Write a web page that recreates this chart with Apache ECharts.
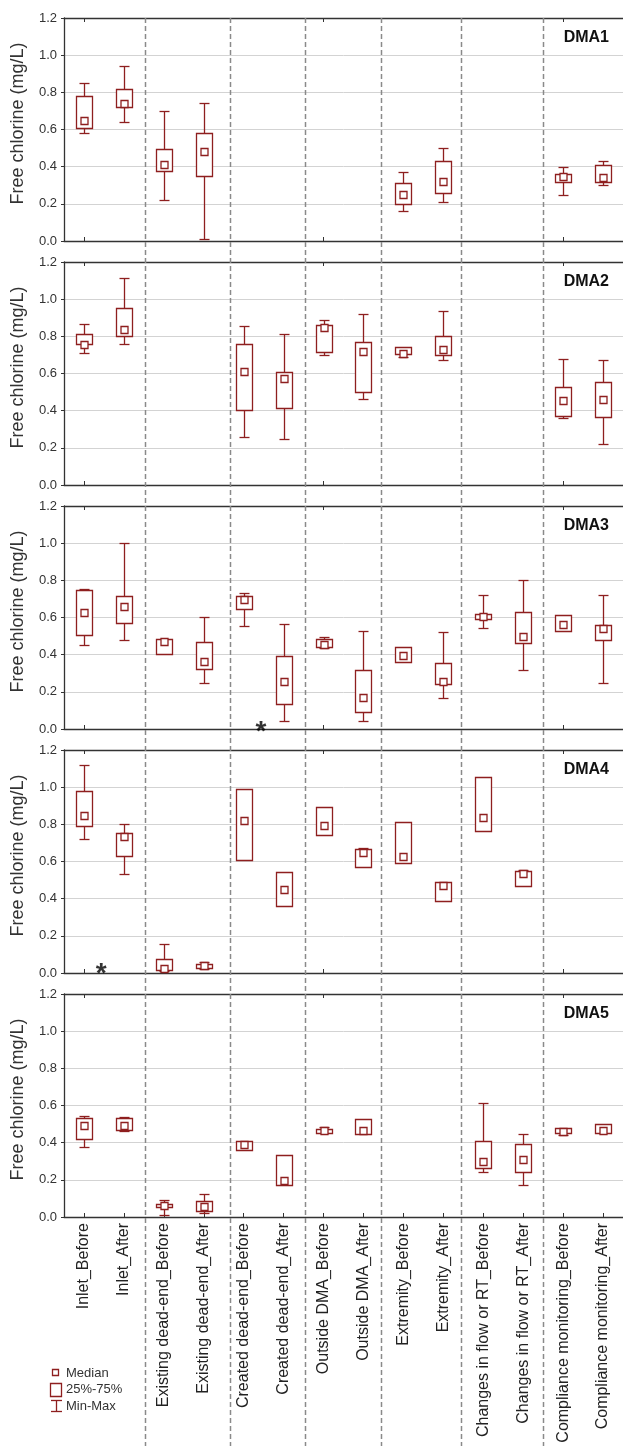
<!DOCTYPE html>
<html>
<head>
<meta charset="utf-8">
<script src="https://cdn.jsdelivr.net/npm/echarts@6/dist/echarts.min.js"></script>
<style>
  html, body { margin: 0; padding: 0; background: #fff; }
  #chart { width: 623px; height: 1446px; }
</style>
</head>
<body>
<div id="chart"></div>
<script>
// Sampling locations, each measured before and after
const categories = [
  'Inlet_Before', 'Inlet_After',
  'Existing dead-end_Before', 'Existing dead-end_After',
  'Created dead-end_Before', 'Created dead-end_After',
  'Outside DMA_Before', 'Outside DMA_After',
  'Extremity_Before', 'Extremity_After',
  'Changes in flow or RT_Before', 'Changes in flow or RT_After',
  'Compliance monitoring_Before', 'Compliance monitoring_After'
];

const panelNames = ['DMA1', 'DMA2', 'DMA3', 'DMA4', 'DMA5'];
const yTicks = [0, 0.2, 0.4, 0.6, 0.8, 1.0, 1.2];

// Free chlorine (mg/L) per location: [min, q25, median, q75, max]; null = no sample / no whisker
const dma1 = [
  [0.58, 0.61, 0.65, 0.78, 0.85],
  [0.64, 0.72, 0.74, 0.82, 0.94],
  [0.22, 0.375, 0.41, 0.495, 0.70],
  [0.01, 0.35, 0.48, 0.58, 0.74],
  null, null, null, null,
  [0.16, 0.20, 0.25, 0.31, 0.37],
  [0.21, 0.26, 0.32, 0.43, 0.50],
  null, null,
  [0.25, 0.32, 0.345, 0.36, 0.40],
  [0.30, 0.32, 0.34, 0.41, 0.43]
];
const dma2 = [
  [0.71, 0.76, 0.755, 0.81, 0.865],
  [0.76, 0.80, 0.835, 0.95, 1.115],
  null, null,
  [0.26, 0.405, 0.61, 0.76, 0.855],
  [0.25, 0.415, 0.575, 0.61, 0.81],
  [0.70, 0.715, 0.845, 0.86, 0.89],
  [0.465, 0.50, 0.72, 0.77, 0.92],
  [0.69, 0.705, 0.71, 0.745, null],
  [0.67, 0.70, 0.73, 0.80, 0.935],
  null, null,
  [0.36, 0.37, 0.455, 0.525, 0.68],
  [0.22, 0.365, 0.46, 0.555, 0.67]
];
const dma3 = [
  [0.45, 0.505, 0.625, 0.75, 0.755],
  [0.48, 0.57, 0.66, 0.715, 1.0],
  [null, 0.405, 0.47, 0.485, null],
  [0.25, 0.325, 0.365, 0.47, 0.605],
  [0.555, 0.645, 0.695, 0.715, 0.73],
  [0.045, 0.135, 0.255, 0.395, 0.565],
  [0.435, 0.44, 0.455, 0.485, 0.495],
  [0.045, 0.09, 0.17, 0.32, 0.53],
  [null, 0.36, 0.395, 0.44, null],
  [0.165, 0.24, 0.255, 0.355, 0.52],
  [0.545, 0.59, 0.605, 0.62, 0.72],
  [0.32, 0.465, 0.50, 0.63, 0.80],
  [null, 0.53, 0.56, 0.615, null],
  [0.25, 0.48, 0.54, 0.56, 0.72]
];
const dma4 = [
  [0.72, 0.79, 0.845, 0.98, 1.12],
  [0.535, 0.63, 0.735, 0.755, 0.80],
  [0.01, 0.018, 0.025, 0.075, 0.155],
  [0.02, 0.025, 0.04, 0.05, 0.06],
  [null, 0.61, 0.82, 0.99, null],
  [null, 0.36, 0.45, 0.545, null],
  [null, 0.745, 0.795, 0.895, null],
  [null, 0.57, 0.65, 0.665, 0.675],
  [null, 0.59, 0.625, 0.81, null],
  [null, 0.39, 0.47, 0.49, null],
  [null, 0.765, 0.835, 1.055, null],
  [null, 0.47, 0.535, 0.55, 0.555],
  null, null
];
const dma5 = [
  [0.375, 0.42, 0.495, 0.535, 0.545],
  [0.465, 0.47, 0.49, 0.535, 0.54],
  [0.01, 0.052, 0.06, 0.068, 0.09],
  [0.02, 0.03, 0.055, 0.088, 0.125],
  [null, 0.36, 0.39, 0.41, null],
  [null, 0.17, 0.195, 0.335, null],
  [0.45, 0.45, 0.465, 0.475, 0.485],
  [null, 0.445, 0.465, 0.53, null],
  null, null,
  [0.24, 0.265, 0.30, 0.41, 0.615],
  [0.17, 0.24, 0.31, 0.395, 0.445],
  [0.44, 0.45, 0.46, 0.48, null],
  [null, 0.45, 0.465, 0.50, null]
];
const panels = [dma1, dma2, dma3, dma4, dma5];

// Group dividers, in category units along the x axis (0 .. 14)
const separatorPositions = [2.02, 4.15, 6.03, 7.93, 9.94, 12.0];

// Asterisk markers: [x in category units, value]
const dma3Asterisk = [4.93, 0.03];
const dma4Asterisk = [0.93, 0.04];
const asteriskByPanel = { 2: dma3Asterisk, 3: dma4Asterisk };

// ---- layout & style ----
const FONT = 'Liberation Sans, Arial, Helvetica, sans-serif';
const BOX_COLOR = '#8e1f1f';
const AXIS_COLOR = '#333333';
const GRID_LEFT = 64;
const GRID_WIDTH = 562;
const PANEL_TOP = 18;
const PANEL_H = 223;
const PANEL_STEP = 244;
const BOTTOM = 1446;

function buildRows(rows) {
  const out = [];
  rows.forEach((r, i) => {
    if (!r) return;
    const [lo, q1, med, q3, hi] = r;
    out.push([i, lo == null ? q1 : lo, q1, med, q3, hi == null ? q3 : hi]);
  });
  return out;
}

function renderBox(params, api) {
  const xi = api.value(0);
  const lo = api.value(1), q1 = api.value(2), med = api.value(3), q3 = api.value(4), hi = api.value(5);
  const cx = Math.round(api.coord([xi, med])[0]) + 0.5;
  const py = v => Math.round(api.coord([xi, v])[1]) + 0.5;
  const boxW = 16, capW = 10, medS = 7;
  const stroke = { stroke: BOX_COLOR, lineWidth: 1.3, fill: null };
  const kids = [];
  const line = (x1, y1, x2, y2) => ({ type: 'line', shape: { x1, y1, x2, y2 }, style: stroke });
  if (hi > q3) {
    kids.push(line(cx, py(q3), cx, py(hi)));
    kids.push(line(cx - capW / 2, py(hi), cx + capW / 2, py(hi)));
  }
  if (lo < q1) {
    kids.push(line(cx, py(q1), cx, py(lo)));
    kids.push(line(cx - capW / 2, py(lo), cx + capW / 2, py(lo)));
  }
  const yTop = py(q3), yBot = py(q1);
  kids.push({
    type: 'rect',
    shape: { x: cx - boxW / 2, y: yTop, width: boxW, height: Math.max(yBot - yTop, 1) },
    style: { stroke: BOX_COLOR, lineWidth: 1.3, fill: '#ffffff' }
  });
  const ym = api.coord([xi, med])[1];
  kids.push({
    type: 'rect',
    shape: { x: cx - medS / 2, y: Math.round(ym - medS / 2) + 0.5, width: medS, height: medS },
    style: { stroke: BOX_COLOR, lineWidth: 1.3, fill: '#ffffff' }
  });
  return { type: 'group', children: kids };
}

const grids = [], xAxes = [], yAxes = [], series = [];
panels.forEach((rows, g) => {
  const last = g === panels.length - 1;
  grids.push({ left: GRID_LEFT, width: GRID_WIDTH, top: PANEL_TOP + g * PANEL_STEP, height: PANEL_H });
  // bottom category axis
  xAxes.push({
    type: 'category', gridIndex: g, data: categories, position: 'bottom', boundaryGap: true,
    axisLine: { show: true, lineStyle: { color: AXIS_COLOR, width: 1.3 } },
    axisTick: { show: true, inside: true, length: 4, alignWithLabel: true, lineStyle: { color: AXIS_COLOR } },
    axisLabel: last ? {
      show: true, rotate: 90, interval: 0, margin: 6, fontSize: 16, color: '#222', fontFamily: FONT
    } : { show: false },
    splitLine: { show: false }
  });
  // top frame with ticks
  xAxes.push({
    type: 'category', gridIndex: g, data: categories, position: 'top', boundaryGap: true,
    axisLine: { show: true, lineStyle: { color: AXIS_COLOR, width: 1.3 } },
    axisTick: { show: true, inside: true, length: 4, alignWithLabel: true, lineStyle: { color: AXIS_COLOR } },
    axisLabel: { show: false }, splitLine: { show: false }
  });
  // continuous helper axis for dividers and markers
  xAxes.push({ type: 'value', gridIndex: g, min: 0, max: 14, show: false });

  yAxes.push({
    type: 'value', gridIndex: g, min: yTicks[0], max: yTicks[yTicks.length - 1], interval: 0.2,
    name: 'Free chlorine (mg/L)', nameLocation: 'middle', nameGap: 37,
    nameTextStyle: { fontSize: 18, color: '#333', fontFamily: FONT, padding: [0, 0, 0, 12] },
    axisLine: { show: true, lineStyle: { color: AXIS_COLOR, width: 1.3 } },
    axisTick: { show: true, inside: false, length: 3, lineStyle: { color: AXIS_COLOR } },
    axisLabel: { fontSize: 13, color: '#333', margin: 7, fontFamily: FONT, formatter: v => v.toFixed(1) },
    splitLine: { show: true, lineStyle: { color: '#d3d3d3', width: 1 } }
  });

  series.push({
    type: 'custom', xAxisIndex: g * 3, yAxisIndex: g,
    renderItem: renderBox,
    encode: { x: 0, y: [1, 2, 3, 4, 5] },
    data: buildRows(rows),
    clip: false, z: 5
  });

  const star = asteriskByPanel[g];
  if (star) {
    series.push({
      type: 'scatter', xAxisIndex: g * 3 + 2, yAxisIndex: g,
      symbolSize: 0, data: [star], silent: true, z: 6,
      label: {
        show: true, position: 'inside', formatter: '*', offset: [0, 9],
        fontSize: 28, fontWeight: 'bold', color: '#000', fontFamily: FONT
      }
    });
  }
});

const chart = echarts.init(document.getElementById('chart'), null, { renderer: 'canvas' });
chart.setOption({
  animation: false,
  backgroundColor: '#ffffff',
  grid: grids,
  xAxis: xAxes,
  yAxis: yAxes,
  series: series
});

// decorations: group dividers, panel titles, legend
const graphics = [];
separatorPositions.forEach(v => {
  const px = Math.round(chart.convertToPixel({ xAxisIndex: 2 }, v)) + 0.5;
  graphics.push({
    type: 'line', silent: true, z: 1,
    shape: { x1: px, y1: PANEL_TOP, x2: px, y2: BOTTOM },
    style: { stroke: '#8a8a8a', lineWidth: 1.5, lineDash: [5, 3] }
  });
});
panelNames.forEach((name, g) => {
  graphics.push({
    type: 'text', z: 10, right: 14, top: PANEL_TOP + g * PANEL_STEP + 12,
    style: { text: name, fontSize: 16, fontWeight: 'bold', fill: '#111', fontFamily: FONT }
  });
});

const legendX = 50, legendY = 1366;
graphics.push(
  { type: 'rect', shape: { x: legendX + 2.5, y: legendY + 3.5, width: 6, height: 6 },
    style: { stroke: BOX_COLOR, lineWidth: 1.3, fill: '#fff' } },
  { type: 'text', x: legendX + 16, y: legendY + 7, style: { text: 'Median', fontSize: 13, fill: '#333', fontFamily: FONT, verticalAlign: 'middle' } },
  { type: 'rect', shape: { x: legendX + 0.5, y: legendY + 17.5, width: 11, height: 13 },
    style: { stroke: BOX_COLOR, lineWidth: 1.3, fill: '#fff' } },
  { type: 'text', x: legendX + 16, y: legendY + 23.5, style: { text: '25%-75%', fontSize: 13, fill: '#333', fontFamily: FONT, verticalAlign: 'middle' } },
  { type: 'line', shape: { x1: legendX + 6.5, y1: legendY + 34, x2: legendX + 6.5, y2: legendY + 46 }, style: { stroke: BOX_COLOR, lineWidth: 1.3 } },
  { type: 'line', shape: { x1: legendX + 1, y1: legendY + 34.5, x2: legendX + 12, y2: legendY + 34.5 }, style: { stroke: BOX_COLOR, lineWidth: 1.3 } },
  { type: 'line', shape: { x1: legendX + 1, y1: legendY + 45.5, x2: legendX + 12, y2: legendY + 45.5 }, style: { stroke: BOX_COLOR, lineWidth: 1.3 } },
  { type: 'text', x: legendX + 16, y: legendY + 40, style: { text: 'Min-Max', fontSize: 13, fill: '#333', fontFamily: FONT, verticalAlign: 'middle' } }
);

chart.setOption({ graphic: graphics });
</script>
</body>
</html>
